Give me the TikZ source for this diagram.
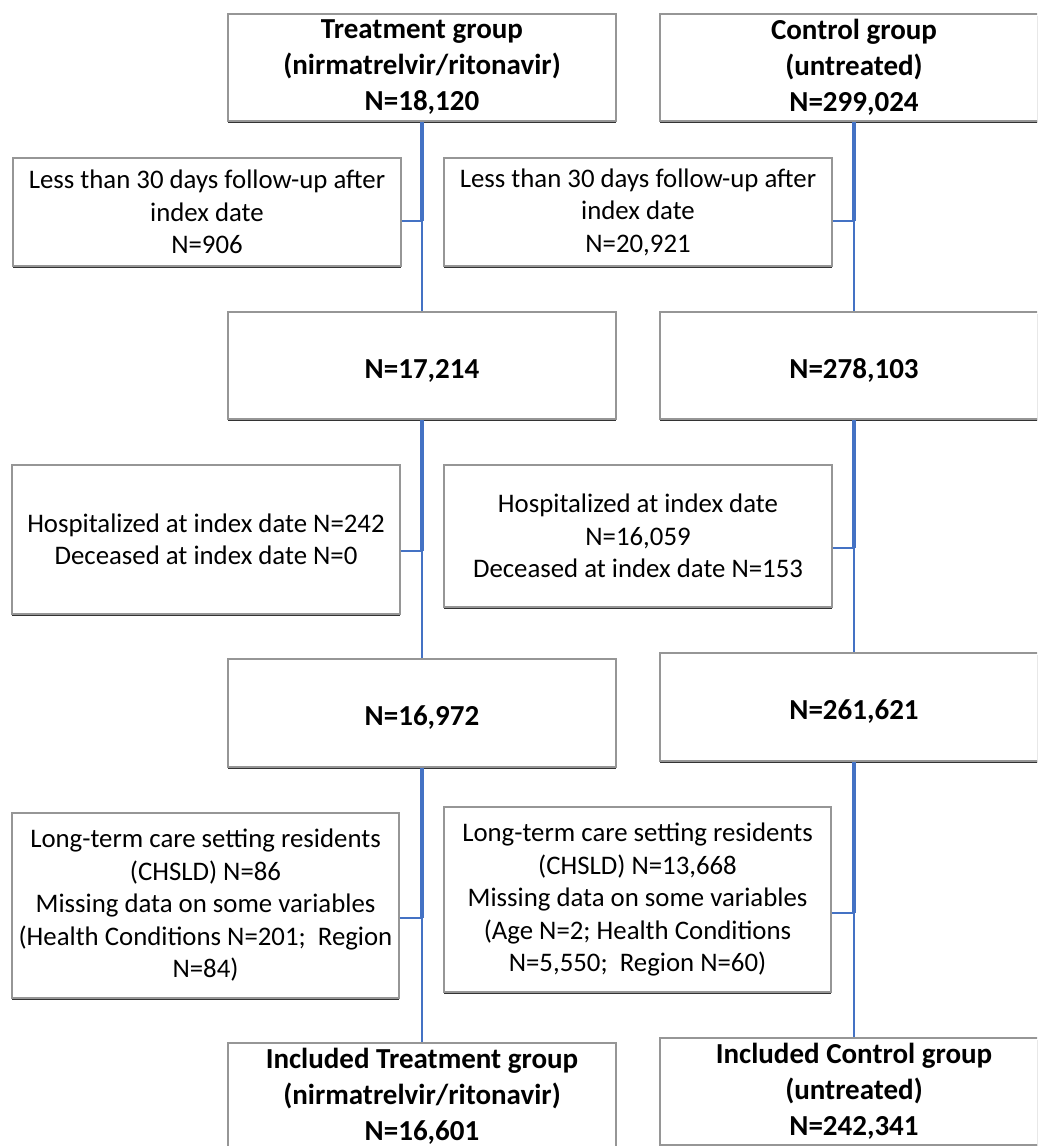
\documentclass[tikz,border=0pt]{standalone}
\usepackage{fontspec}
\setmainfont{Carlito}
\usepackage{tikz}
\definecolor{lnk}{RGB}{68, 114, 196}
\definecolor{edge}{RGB}{150, 150, 150}
\usetikzlibrary{positioning}
\usetikzlibrary{shadows}

\begin{document}
\begin{tikzpicture}[
  every node/.style={inner sep=0pt},
  box/.style={rectangle, fill=white, draw=edge, line width=1.2pt, align=center,
    minimum width=388pt, execute at begin node={\rule{0pt}{1.0em}},
    drop shadow={shadow xshift=0pt, shadow yshift=-1.6pt, fill=black!80, opacity=1}},
  big/.style={box, font=\fontsize{29}{36}\selectfont\bfseries},
  small/.style={box, font=\fontsize{26.8}{32.5}\selectfont},
  trunk/.style={line width=3.2pt, color=lnk},
  trunkthin/.style={line width=2.2pt, color=lnk},
  branch/.style={line width=2pt, color=lnk}]
\clip (0pt, 0pt) rectangle (1037pt, -1146pt);
\fill [white] (0pt, 0pt) rectangle (1037pt, -1146pt);
% main boxes
\node (1) [big, minimum height=107pt] at (422pt, -67.5pt) {Treatment group\\(nirmatrelvir/ritonavir)\\N=18,120};
\node (2) [big, minimum height=107pt] at (854pt, -67.5pt) {Control group\\(untreated)\\N=299,024};
\node (3) [big, minimum height=107pt] at (422pt, -365.5pt) {N=17,214};
\node (4) [big, minimum height=107pt] at (854pt, -365.5pt) {N=278,103};
\node (5) [big, minimum height=108pt] at (422pt, -713pt) {N=16,972};
\node (6) [big, minimum height=108pt] at (854pt, -707pt) {N=261,621};
\node (7) [big, minimum height=107pt] at (422pt, -1096.5pt) {Included Treatment group\\(nirmatrelvir/ritonavir)\\N=16,601};
\node (8) [big, minimum height=107pt] at (854pt, -1091.5pt) {Included Control group\\(untreated)\\N=242,341};
% exclusions
\node (9) [small, minimum height=108pt] at (207pt, -212pt) {Less than 30 days follow-up after\\index date\\N=906};
\node (10) [small, minimum height=108pt] at (638pt, -212pt) {Less than 30 days follow-up after\\index date\\N=20,921};
\node (11) [small, minimum height=149pt] at (206pt, -539.5pt) {Hospitalized at index date N=242\\Deceased at index date N=0};
\node (12) [small, minimum height=142pt] at (638pt, -536pt) {Hospitalized at index date\\N=16,059\\Deceased at index date N=153};
\node (13) [small, minimum width=387pt, minimum height=185pt] at (205.5pt, -905.5pt) {Long-term care setting residents\\(CHSLD) N=86\\Missing data on some variables\\(Health Conditions N=201;~ Region\\N=84)};
\node (14) [small, minimum width=387pt, minimum height=185pt] at (637.5pt, -899.5pt) {Long-term care setting residents\\(CHSLD) N=13,668\\Missing data on some variables\\(Age N=2; Health Conditions\\N=5,550;~ Region N=60)};
% junctions
\coordinate (j9) at (422pt, -221pt);
\coordinate (j10) at (854pt, -221pt);
\coordinate (j11) at (422pt, -551pt);
\coordinate (j12) at (854pt, -548pt);
\coordinate (j13) at (422pt, -918pt);
\coordinate (j14) at (854pt, -913pt);
\draw [trunk] (1.south) -- (j9);
\draw [trunkthin] (j9) -- (3.north);
\draw [branch] (9.east |- j9) -- (j9);
\draw [trunk] (2.south) -- (j10);
\draw [trunkthin] (j10) -- (4.north);
\draw [branch] (10.east |- j10) -- (j10);
\draw [trunk] (3.south) -- (j11);
\draw [trunkthin] (j11) -- (5.north);
\draw [branch] (11.east |- j11) -- (j11);
\draw [trunk] (4.south) -- (j12);
\draw [trunkthin] (j12) -- (6.north);
\draw [branch] (12.east |- j12) -- (j12);
\draw [trunk] (5.south) -- (j13);
\draw [trunkthin] (j13) -- (7.north);
\draw [branch] (13.east |- j13) -- (j13);
\draw [trunk] (6.south) -- (j14);
\draw [trunkthin] (j14) -- (8.north);
\draw [branch] (14.east |- j14) -- (j14);
\end{tikzpicture}
\end{document}
